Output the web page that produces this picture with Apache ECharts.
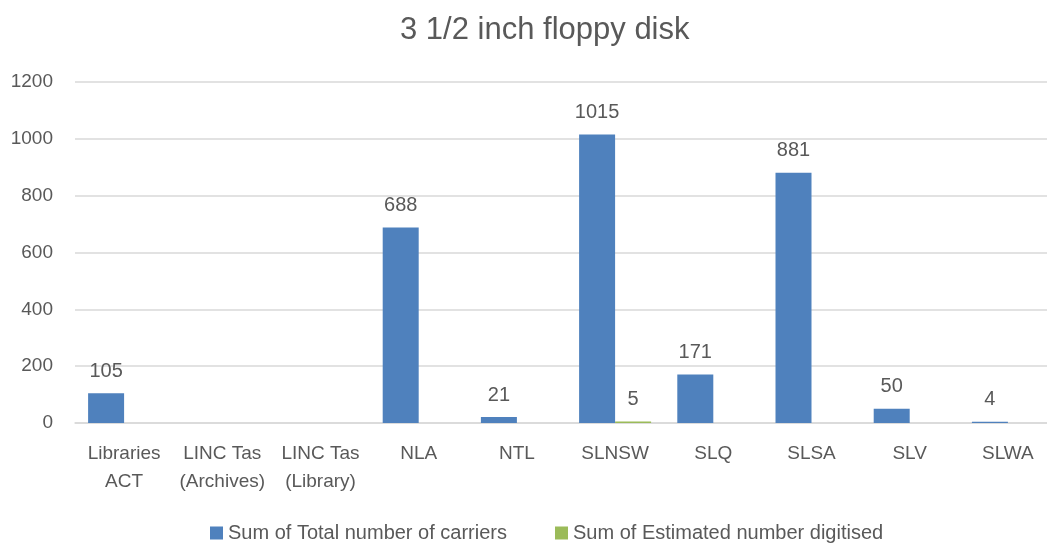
<!DOCTYPE html>
<html>
<head>
<meta charset="utf-8">
<script src="https://cdn.jsdelivr.net/npm/echarts@6/dist/echarts.min.js"></script>
<style>
html,body{margin:0;padding:0;background:#fff;}
#chart{width:1047px;height:544px;}
</style>
</head>
<body>
<div id="chart"></div>
<script>
const titleText = '3 1/2 inch floppy disk';
const categories = ['Libraries\nACT', 'LINC Tas\n(Archives)', 'LINC Tas\n(Library)', 'NLA', 'NTL', 'SLNSW', 'SLQ', 'SLSA', 'SLV', 'SLWA'];
const seriesNames = ['Sum of Total number of carriers', 'Sum of Estimated number digitised'];
const totalCarriers = [105, null, null, 688, 21, 1015, 171, 881, 50, 4];
const estimatedDigitised = [null, null, null, null, null, 5, null, null, null, null];
const yTicks = { min: 0, max: 1200, interval: 200 };

const FONT = "'Liberation Sans Narrow', 'Arial Narrow', 'Liberation Sans', Arial, sans-serif";
const TXT = '#595959';

const chart = echarts.init(document.getElementById('chart'));
chart.setOption({
  animation: false,
  textStyle: { fontFamily: FONT },
  title: {
    text: titleText,
    left: 395,
    top: 10,
    textStyle: { fontFamily: FONT, fontSize: 31, fontWeight: 'normal', color: TXT }
  },
  legend: {
    top: 518,
    left: 205,
    itemWidth: 13,
    itemHeight: 13,
    itemGap: 48,
    icon: 'rect',
    textStyle: { fontFamily: FONT, fontSize: 20, color: TXT },
    data: seriesNames
  },
  grid: { left: 75, top: 82, width: 982, height: 341, containLabel: false, outerBoundsMode: 'none' },
  xAxis: {
    type: 'category',
    data: categories,
    axisLine: { lineStyle: { color: '#D9D9D9', width: 1.5 } },
    axisTick: { show: false },
    axisLabel: { fontFamily: FONT, fontSize: 19, color: TXT, margin: 17, lineHeight: 28, interval: 0 }
  },
  yAxis: {
    type: 'value',
    min: yTicks.min,
    max: yTicks.max,
    interval: yTicks.interval,
    axisLine: { show: false },
    axisTick: { show: false },
    splitLine: { lineStyle: { color: '#D9D9D9', width: 1.5 } },
    axisLabel: { fontFamily: FONT, fontSize: 19, color: TXT, margin: 22, formatter: function (v) { return String(v); } }
  },
  series: [
    {
      name: seriesNames[0],
      type: 'bar',
      data: totalCarriers,
      barWidth: 36,
      barGap: '0%',
      itemStyle: { color: '#4F81BD' },
      label: { show: true, position: 'top', distance: 12, fontFamily: FONT, fontSize: 20, color: TXT }
    },
    {
      name: seriesNames[1],
      type: 'bar',
      data: estimatedDigitised,
      barWidth: 36,
      barGap: '0%',
      itemStyle: { color: '#9BBB59' },
      label: { show: true, position: 'top', distance: 12, fontFamily: FONT, fontSize: 20, color: TXT }
    }
  ]
});
</script>
</body>
</html>
